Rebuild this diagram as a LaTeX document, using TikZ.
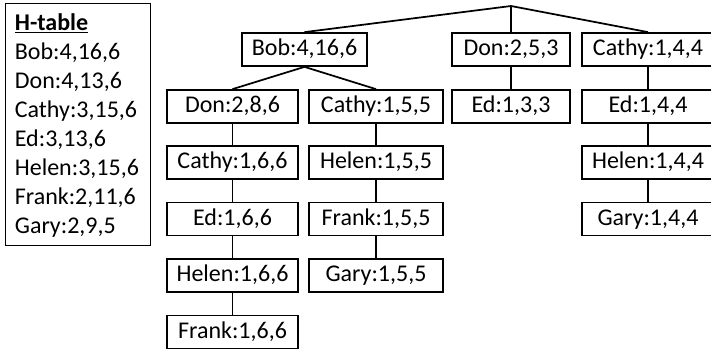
\documentclass[tikz,border=0pt]{standalone}
\usepackage{fontspec}
\setmainfont{Carlito}
\begin{document}
\begin{tikzpicture}[x=0.75pt,y=-0.75pt,line width=1.3pt,
  box/.style={draw, rectangle, inner sep=0pt, minimum height=24.75pt,
    text height=12.6pt, text depth=3.2pt, font=\fontsize{18}{21.7}\selectfont},
  wbob/.style={box, minimum width=93.75pt},
  wc1/.style={box, minimum width=98.25pt},
  wc2/.style={box, minimum width=100.5pt},
  wc3/.style={box, minimum width=88.5pt},
  wc4/.style={box, minimum width=99pt},
  hline/.style={anchor=base west, inner sep=0pt, font=\fontsize{18}{21.7}\selectfont},
  link/.style={line width=1.3pt}]
\useasboundingbox (0,0) rectangle (711,350);
% H-table
\node[draw, rectangle, anchor=north west, inner sep=0pt, minimum width=108.75pt, minimum height=181.5pt] (htable) at (4.5,2.5) {};
\node[hline] (h0) at (14,30) {\textbf{\underline{H-table}}};
\node[hline] (h1) at (14,59) {Bob:4,16,6};
\node[hline] (h2) at (14,88) {Don:4,13,6};
\node[hline] (h3) at (14,117) {Cathy:3,15,6};
\node[hline] (h4) at (14,146) {Ed:3,13,6};
\node[hline] (h5) at (14,175) {Helen:3,15,6};
\node[hline] (h6) at (14,204) {Frank:2,11,6};
\node[hline] (h7) at (14,233) {Gary:2,9,5};
% root
\coordinate (root) at (511,6);
% row 1
\node[wbob] (bob) at (304.5,49.5) {Bob:4,16,6};
\node[wc3] (don1) at (511,49.5) {Don:2,5,3};
\node[wc4] (cathy1) at (648,49.5) {Cathy:1,4,4};
% column 1
\node[wc1] (a1) at (232.5,106.5) {Don:2,8,6};
\node[wc1] (a2) at (232.5,162.5) {Cathy:1,6,6};
\node[wc1] (a3) at (232.5,219) {Ed:1,6,6};
\node[wc1] (a4) at (232.5,275.5) {Helen:1,6,6};
\node[wc1] (a5) at (232.5,332) {Frank:1,6,6};
% column 2
\node[wc2] (b1) at (376,106.5) {Cathy:1,5,5};
\node[wc2] (b2) at (376,162.5) {Helen:1,5,5};
\node[wc2] (b3) at (376,219) {Frank:1,5,5};
\node[wc2] (b4) at (376,275.5) {Gary:1,5,5};
% column 3
\node[wc3] (c1) at (511,106.5) {Ed:1,3,3};
% column 4
\node[wc4] (d1) at (648,106.5) {Ed:1,4,4};
\node[wc4] (d2) at (648,162.5) {Helen:1,4,4};
\node[wc4] (d3) at (648,219) {Gary:1,4,4};
% connectors
\draw[link] (root) -- (bob.north);
\draw[link] (root) -- (don1.north);
\draw[link] (root) -- (cathy1.north);
\draw[link] (bob.south) -- (a1.north);
\draw[link] (bob.south) -- (b1.north);
\draw[link] (a1) -- (a2);
\draw[link] (a2) -- (a3);
\draw[link] (a3) -- (a4);
\draw[link] (a4) -- (a5);
\draw[link] (b1) -- (b2);
\draw[link] (b2) -- (b3);
\draw[link] (b3) -- (b4);
\draw[link] (don1) -- (c1);
\draw[link] (cathy1) -- (d1);
\draw[link] (d1) -- (d2);
\draw[link] (d2) -- (d3);
\end{tikzpicture}
\end{document}
